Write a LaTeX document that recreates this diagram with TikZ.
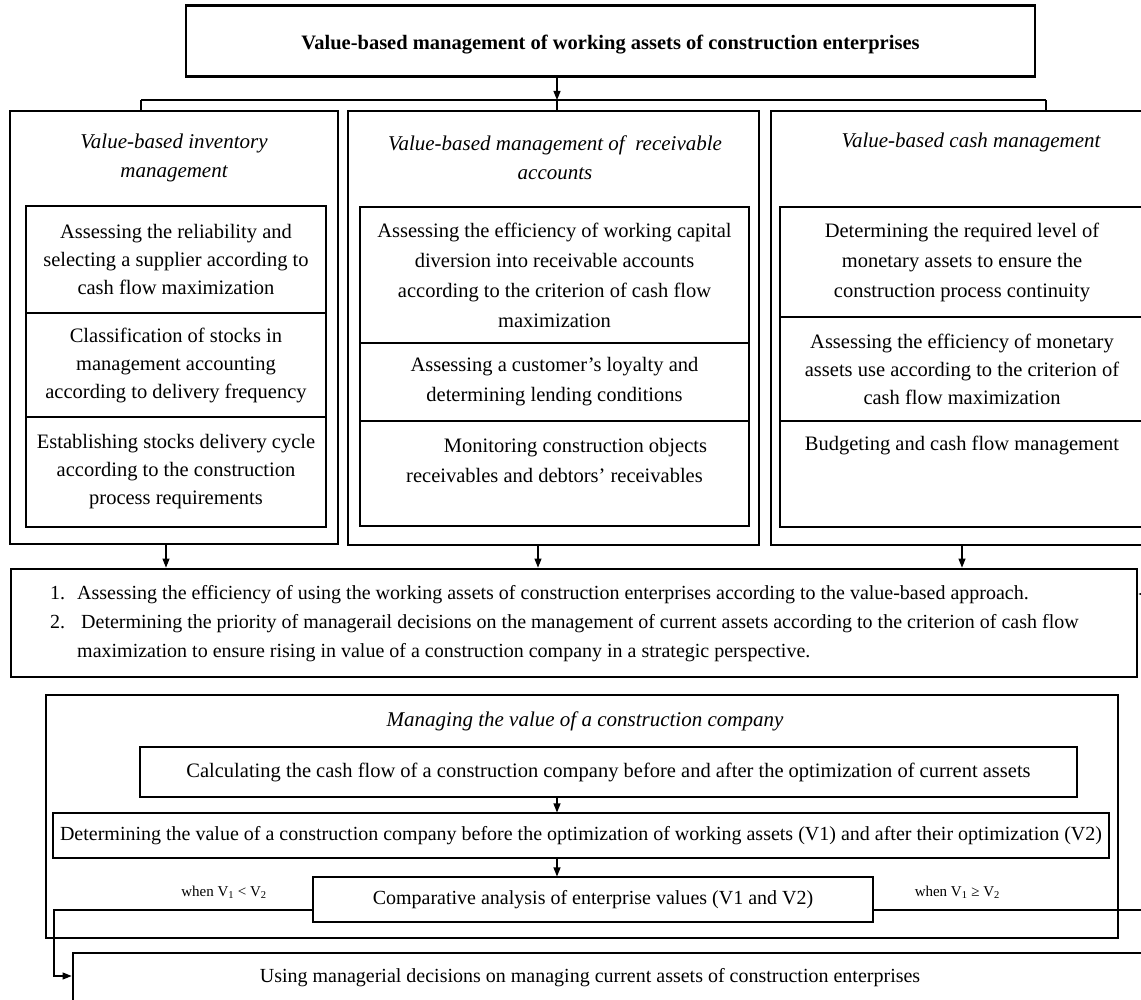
\documentclass[tikz,border=0pt]{standalone}
\usepackage{fontspec}
\setmainfont{Liberation Serif}
\usetikzlibrary{arrows.meta,calc}
\begin{document}
\begin{tikzpicture}[x=1pt,y=-1pt,
  thickbox/.style={draw, line width=2.8pt, inner sep=0pt},
  thinbox/.style={draw, line width=1.1pt, inner sep=0pt},
  conn/.style={line width=1.1pt},
  arr/.style={conn, -{Triangle[length=9pt,width=7pt]}},
  body/.style={font=\fontsize{20.5}{28}\selectfont, align=center, inner sep=0pt},
  bodyw/.style={font=\fontsize{20.5}{30}\selectfont, align=center, inner sep=0pt},
  line/.style={font=\fontsize{20}{24}\selectfont},
  head/.style={font=\fontsize{21}{29}\selectfont\itshape, align=center, inner sep=0pt},
  small/.style={font=\fontsize{15}{17}\selectfont, inner sep=0pt}]
\path[use as bounding box] (0,0) rectangle (1141,1000);
\clip (0,0) rectangle (1141,1000);
\fill[white] (0,0) rectangle (1141,1000);

% title
\node[thickbox, minimum width=849pt, minimum height=71pt] (title) at (610.5,41) {};
\node[font=\fontsize{20.5}{24}\selectfont\bfseries, inner sep=0pt] (titlet) at (610.5,45) {Value-based management of working assets of construction enterprises};

% bus
\coordinate (bus) at (557,100);
\coordinate (busL) at (141,100);
\coordinate (busR) at (1046,100);

% columns
\node[thickbox, minimum width=328pt, minimum height=433pt] (colL) at (174,327.5) {};
\node[thickbox, minimum width=411pt, minimum height=434pt] (colM) at (553.5,328) {};
\node[thickbox, minimum width=382pt, minimum height=434pt] (colR) at (962,328) {};

\draw[arr] (title.south -| bus) -- (bus);
\draw[conn] (busL) -- (busR);
\draw[conn] (busL) -- (busL |- colL.north);
\draw[conn] (bus) -- (bus |- colM.north);
\draw[conn] (busR) -- (busR |- colR.north);

\node[head] (hL) at (174,157.5) {Value-based inventory\\management};
\node[head] (hM) at (555,157.5) {Value-based management of \ receivable\\accounts};
\node[head] (hR) at (971,142) {Value-based cash management};

% left inner
\node[thinbox, minimum width=300pt, minimum height=107pt, body] (L1) at (176,259.5) {Assessing the reliability and\\selecting a supplier according to\\cash flow maximization};
\node[thinbox, minimum width=300pt, minimum height=104pt, body] (L2) at (176,365) {Classification of stocks in\\management accounting\\according to delivery frequency};
\node[thinbox, minimum width=300pt, minimum height=110pt, body] (L3) at (176,472) {Establishing stocks delivery cycle\\according to the construction\\process requirements};

% middle inner
\node[thinbox, minimum width=389pt, minimum height=136pt, bodyw] (M1) at (554.5,275) {Assessing the efficiency of working capital\\diversion into receivable accounts\\according to the criterion of cash flow\\maximization};
\node[thinbox, minimum width=389pt, minimum height=78pt, bodyw] (M2) at (554.5,382) {Assessing a customer’s loyalty and\\determining lending conditions};
\node[thinbox, minimum width=389pt, minimum height=105pt] (M3) at (554.5,473.5) {};
\node[bodyw] (M3t) at (554.5,460) {\hspace*{42pt}Monitoring construction objects\\receivables and debtors’ receivables};

% right inner
\node[thinbox, minimum width=364pt, minimum height=110pt, bodyw] (R1) at (962,262) {Determining the required level of\\monetary assets to ensure the\\construction process continuity};
\node[thinbox, minimum width=364pt, minimum height=104pt, body] (R2) at (962,369) {Assessing the efficiency of monetary\\assets use according to the criterion of\\cash flow maximization};
\node[thinbox, minimum width=364pt, minimum height=106pt] (R3) at (962,474) {};
\node[body] (R3t) at (962,445) {Budgeting and cash flow management};

% numbered box
\node[thickbox, minimum width=1126pt, minimum height=108pt] (num) at (574,623) {};
\node[font=\fontsize{20}{29}\selectfont, align=left, inner sep=0pt, anchor=west] (numt) at (50,624)
 {\makebox[27pt][l]{1.}Assessing the efficiency of using the working assets of construction enterprises according to the value-based approach.\\
  \makebox[27pt][l]{2.}\hspace{4pt}Determining the priority of managerail decisions on the management of current assets according to the criterion of cash flow\\
  \makebox[27pt][l]{}maximization to ensure rising in value of a construction company in a strategic perspective.};

\coordinate (a1) at (166,0);
\coordinate (a2) at (538,0);
\coordinate (a3) at (962,0);
\draw[arr] (colL.south -| a1) -- (num.north -| a1);
\draw[arr] (colM.south -| a2) -- (num.north -| a2);
\draw[arr] (colR.south -| a3) -- (num.north -| a3);

% managing box
\node[thickbox, minimum width=1072pt, minimum height=243pt] (mng) at (582,816.5) {};
\node[head] (mngh) at (585,721) {Managing the value of a construction company};
\node[thinbox, minimum width=937pt, minimum height=50pt, font=\fontsize{20.5}{24}\selectfont] (calc) at (608.5,772) {Calculating the cash flow of a construction company before and after the optimization of current assets};
\node[thinbox, minimum width=1056pt, minimum height=45pt, line] (det) at (581,835.5) {Determining the value of a construction company before the optimization of working assets (V1) and after their optimization (V2)};
\node[thinbox, minimum width=560pt, minimum height=45pt, line] (comp) at (593,899.5) {Comparative analysis of enterprise values (V1 and V2)};

\coordinate (ax) at (557,0);
\draw[arr] (calc.south -| ax) -- (det.north -| ax);
\draw[arr] (det.south -| ax) -- (comp.north -| ax);

\node[small] (lblL) at (224,892) {when V\textsubscript{1} < V\textsubscript{2}};
\node[small, anchor=west] (lblR) at ([xshift=41pt,yshift=7.5pt]comp.east) {when V\textsubscript{1} ≥ V\textsubscript{2}};

% using box
\node[thickbox, minimum width=1100pt, minimum height=77pt] (use) at (623,991.5) {};
\node[line, inner sep=0pt] (uset) at (590,978) {Using managerial decisions on managing current assets of construction enterprises};

\coordinate (ly1) at (54,910);
\coordinate (ly2) at (54,976);
\draw[arr] (comp.west |- ly1) -- (ly1) -- (ly2) -- (use.west |- ly2);
\coordinate (ry1) at (1160,910);
\coordinate (ry2) at (1160,594);
\draw[arr] (comp.east |- ry1) -- (ry1) -- (ry2) -- (num.east |- ry2);
\end{tikzpicture}
\end{document}
